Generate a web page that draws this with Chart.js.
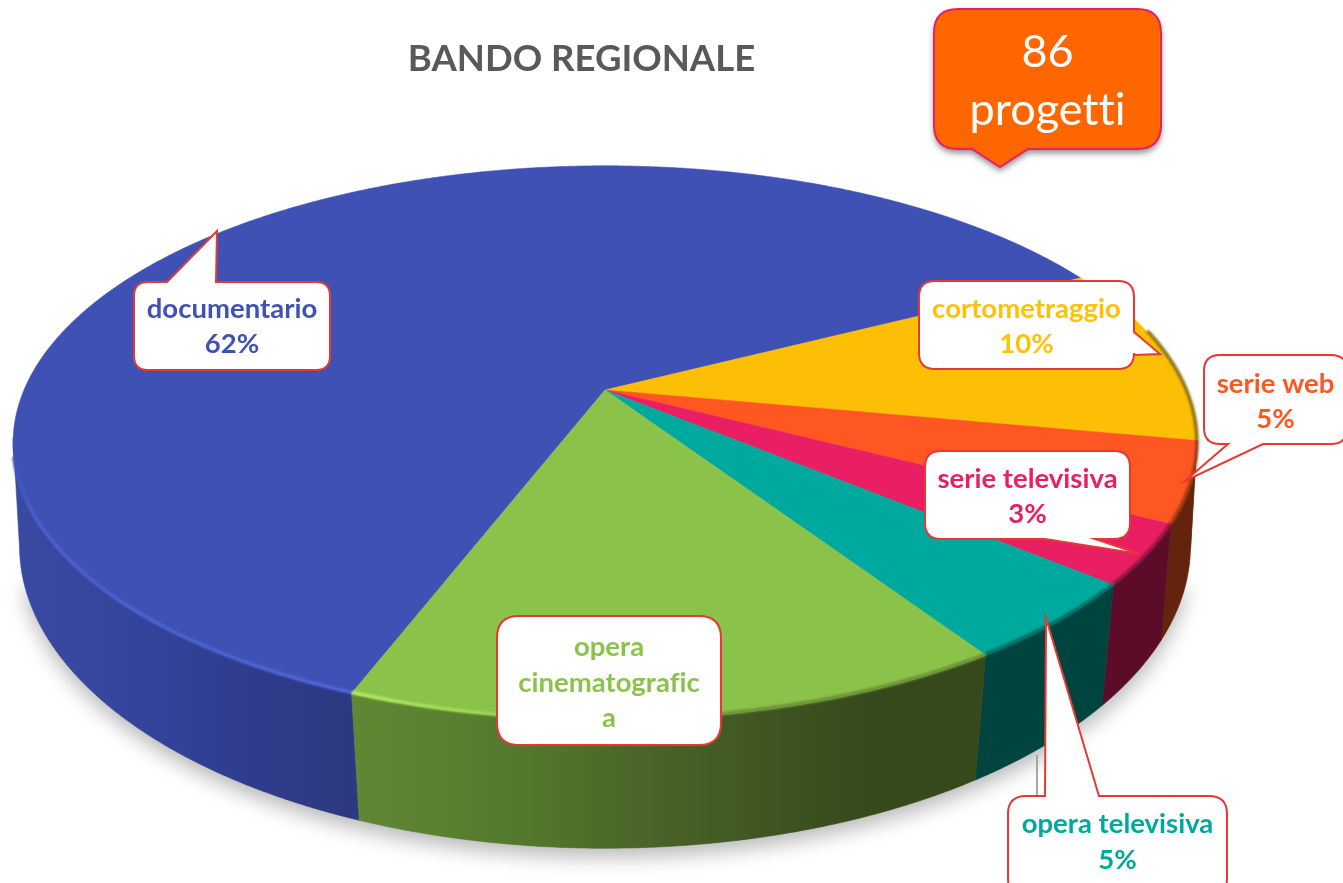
<!DOCTYPE html>
<html lang="it">
<head>
<meta charset="utf-8">
<title>BANDO REGIONALE</title>
<style>html,body{margin:0;padding:0;background:#fff;overflow:hidden}canvas{display:block}</style>
<script src="https://cdn.jsdelivr.net/npm/chart.js@4/dist/chart.umd.js"></script>
</head>
<body>
<canvas id="c" width="1343" height="883"></canvas>
<script>
const categories = ['documentario','cortometraggio','serie web','serie televisiva','opera televisiva','opera cinematografica'];
const projects = [53,9,4,3,4,13];
const topColors = ['#3F51B5','#FDBF05','#FF5722','#E91E63','#00A99D','#8BC34A'];
const totalLines = ['86','progetti'];
const chartTitle = 'BANDO REGIONALE';
const pct = i => Math.round(projects[i]/projects.reduce((a,b)=>a+b,0)*100)+'%';

// projection of the flat pie on to the tilted disc
const TOP = {cx:605, y0:390, R:581, S:267, k:0.191};
const BOT = {cx:605, y0:494, R:577, S:294, k:0.17};
function proj(p,a){const u=Math.cos(a),v=Math.sin(a),d=1-p.k*v;return [p.cx+p.R*u/d,p.y0+p.S*v/d];}
function samples(a,b){const n=Math.max(2,Math.ceil(Math.abs(b-a)/0.006));const o=[];for(let i=0;i<=n;i++)o.push(a+(b-a)*i/n);return o;}
const rad=d=>d*Math.PI/180;

function wallPaint(ctx,i){
  const g=ctx.createLinearGradient(15,0,1190,0);
  const s={
    0:[[0,'#3A4AA2'],[0.12,'#34439A'],[0.2,'#2F3C8C'],[0.3,'#2C3880'],[1,'#2C3880']],
    5:[[0,'#618734'],[0.29,'#618734'],[0.42,'#557A2E'],[0.53,'#4A6628'],[0.66,'#3D5220'],[0.73,'#35491B'],[1,'#3A4A1C']]
  }[i];
  if(s){s.forEach(c=>g.addColorStop(c[0],c[1]));return g;}
  return {1:'#7A5E08',2:'#64230D',3:'#5C0C28',4:'#004440'}[i];
}
function rimPaint(ctx,i){
  if(i===0){const g=ctx.createLinearGradient(12,0,360,0);g.addColorStop(0,'#3F51B5');g.addColorStop(0.06,'#4A60CC');g.addColorStop(1,'#4E68DA');return g;}
  if(i===5){const g=ctx.createLinearGradient(355,0,760,0);g.addColorStop(0,'#B4EC64');g.addColorStop(0.35,'#9AD452');g.addColorStop(0.5,'#7FAF44');g.addColorStop(1,'#6A9035');return g;}
  return {1:'#8A7010',2:'#A03A14',3:'#8E1640',4:'#006A62'}[i];
}

const calloutPlugin={
  id:'callouts',
  afterDraw(chart){
    const ctx=chart.ctx;
    const items=[
      {x:134,y:282,w:196,h:88,r:14,tail:[['t',167],[217,231],['t',216]],lines:[categories[0],pct(0)],c:topColors[0],base:[318,353]},
      {x:919,y:281,w:215,h:88,r:16,tail:[['r',332],[1160,354],['r',355]],lines:[categories[1],pct(1)],c:'#FFC107',base:[318,353]},
      {x:1204,y:355,w:143,h:89,r:16,tail:[['b',1263],[1185,481],['b',1228]],lines:[categories[2],pct(2)],c:topColors[2],base:[393,428]},
      {x:925,y:451,w:205,h:88,r:16,tail:[['b',1095],[1140,554],['b',1045]],lines:[categories[3],pct(3)],c:topColors[3],base:[488,523]},
      {x:1008,y:796,w:219,h:100,r:18,tail:[['t',1045],[1046,618],['t',1099]],lines:[categories[4],pct(4)],c:topColors[4],base:[833,869]},
      {x:497,y:616,w:224,h:129,r:22,tail:null,lines:['opera','cinematografic','a'],c:topColors[5],base:[656,692,727]}
    ];
    // small grey leader stub beside the lower callout
    ctx.save();ctx.strokeStyle='#A6A6A6';ctx.lineWidth=2;ctx.beginPath();ctx.moveTo(1037,755);ctx.lineTo(1037,796);ctx.stroke();ctx.restore();
    items.forEach(it=>{
      ctx.save();
      bubble(ctx,it);
      ctx.fillStyle='#fff';ctx.fill();
      ctx.strokeStyle='#E53935';ctx.lineWidth=2;ctx.lineJoin='miter';ctx.stroke();
      ctx.fillStyle=it.c;ctx.font='bold 27.5px Lato';ctx.letterSpacing='0.01px';ctx.textAlign='center';ctx.textBaseline='alphabetic';
      it.lines.forEach((l,i)=>ctx.fillText(l,it.x+it.w/2,it.base[i]));
      ctx.restore();
    });
    // total box
    const t={x:934,y:9,w:227,h:140,r:24,tail:[['b',1028],[1000,167],['b',972]]};
    ctx.save();
    ctx.shadowColor='rgba(0,0,0,.45)';ctx.shadowBlur=6;ctx.shadowOffsetX=0;ctx.shadowOffsetY=4;
    bubble(ctx,t);ctx.fillStyle='#FF6600';ctx.fill();
    ctx.shadowColor='transparent';
    ctx.strokeStyle='#E91E63';ctx.lineWidth=2;ctx.stroke();
    ctx.fillStyle='#fff';ctx.font='45px Lato';ctx.letterSpacing='0.01px';ctx.textAlign='center';
    ctx.fillText(totalLines[0],1047.5,67);
    ctx.fillText(totalLines[1],1047.5,125);
    ctx.restore();
  }
};
function bubble(ctx,o){
  const {x,y,w,h,r,tail}=o,R=x+w,B=y+h;
  const f={t:[],r:[],b:[],l:[]};
  if(tail){const side=tail[0][0];f[side]=tail;}
  const pt=(q,side)=>{if(typeof q[0]==='number')return q;return side==='t'?[q[1],y]:side==='b'?[q[1],B]:side==='r'?[R,q[1]]:[x,q[1]];};
  ctx.beginPath();ctx.moveTo(x+r,y);
  f.t.forEach(q=>{const p=pt(q,'t');ctx.lineTo(p[0],p[1]);});
  ctx.lineTo(R-r,y);ctx.quadraticCurveTo(R,y,R,y+r);
  f.r.forEach(q=>{const p=pt(q,'r');ctx.lineTo(p[0],p[1]);});
  ctx.lineTo(R,B-r);ctx.quadraticCurveTo(R,B,R-r,B);
  f.b.forEach(q=>{const p=pt(q,'b');ctx.lineTo(p[0],p[1]);});
  ctx.lineTo(x+r,B);ctx.quadraticCurveTo(x,B,x,B-r);
  ctx.lineTo(x,y+r);ctx.quadraticCurveTo(x,y,x+r,y);ctx.closePath();
}

const disc3d={
  id:'disc3d',
  beforeDatasetsDraw(chart){
    const ctx=chart.ctx, arcs=chart.getDatasetMeta(0).data;
    const norm=a=>{a%=2*Math.PI;return a<0?a+2*Math.PI:a;};
    const lo=rad(10), hi=rad(170);
    // ground shadow
    ctx.save();
    ctx.shadowColor='rgba(0,0,0,.28)';ctx.shadowBlur=20;ctx.shadowOffsetY=9;
    ctx.fillStyle='#999';ctx.beginPath();
    samples(lo+rad(6),hi-rad(6)).forEach((a,i)=>{const p=proj(BOT,a);i?ctx.lineTo(p[0],p[1]):ctx.moveTo(p[0],p[1]);});
    ctx.closePath();ctx.fill();ctx.restore();
    // walls
    arcs.forEach((el,i)=>{
      const a=norm(el.startAngle),b=a+(el.endAngle-el.startAngle);
      [[Math.max(a,lo),Math.min(b,hi)],[Math.max(a,2*Math.PI+lo),Math.min(b,2*Math.PI+hi)]].forEach(([s,e])=>{
        if(e<=s)return;
        const as=samples(s,e);
        ctx.beginPath();
        as.forEach((t,j)=>{const p=proj(TOP,t);j?ctx.lineTo(p[0],p[1]):ctx.moveTo(p[0],p[1]);});
        as.slice().reverse().forEach(t=>{const p=proj(BOT,t);ctx.lineTo(p[0],p[1]);});
        ctx.closePath();
        ctx.fillStyle=wallPaint(ctx,i);ctx.fill();
        ctx.strokeStyle=ctx.fillStyle;ctx.lineWidth=0.6;ctx.stroke();
      });
    });
    // top face
    arcs.forEach((el,i)=>{
      ctx.beginPath();ctx.moveTo(TOP.cx,TOP.y0);
      samples(el.startAngle,el.endAngle).forEach(t=>{const p=proj(TOP,t);ctx.lineTo(p[0],p[1]);});
      ctx.closePath();
      ctx.fillStyle=el.options.backgroundColor;ctx.fill();
      ctx.strokeStyle=el.options.backgroundColor;ctx.lineWidth=0.6;ctx.stroke();
    });
    // bevel along the rim, limited to the lit front of each slice
    arcs.forEach((el,i)=>{
      const a=norm(el.startAngle),b=a+(el.endAngle-el.startAngle);
      const rs=i===0?[[a,Math.min(b,rad(166))]]
        :i===1?[[a+rad(14),b]]
        :[[a,Math.min(b,hi)]];
      rs.forEach(([s,e])=>{
        if(e<=s)return;
        ctx.save();
        ctx.filter='blur(1.2px)';
        ctx.strokeStyle=rimPaint(ctx,i);ctx.lineWidth=3.5;ctx.beginPath();
        samples(s,e).forEach((t,j)=>{const p=proj(TOP,t);j?ctx.lineTo(p[0],p[1]-1):ctx.moveTo(p[0],p[1]-1);});
        ctx.stroke();ctx.restore();
      });
    });
    return false;
  }
};

new Chart(document.getElementById('c'),{
  type:'pie',
  data:{labels:categories,datasets:[{data:projects,backgroundColor:topColors,borderWidth:0}]},
  plugins:[disc3d,calloutPlugin],
  options:{
    responsive:false,animation:false,events:[],rotation:201,
    layout:{padding:{top:0,right:180,left:0,bottom:0}},
    plugins:{
      legend:{display:false},tooltip:{enabled:false},
      title:{display:true,text:chartTitle,fullSize:false,color:'#595959',font:{family:'Lato',size:36.5,weight:'bold'},padding:{top:37,bottom:10}}
    }
  }
});
</script>
</body>
</html>
